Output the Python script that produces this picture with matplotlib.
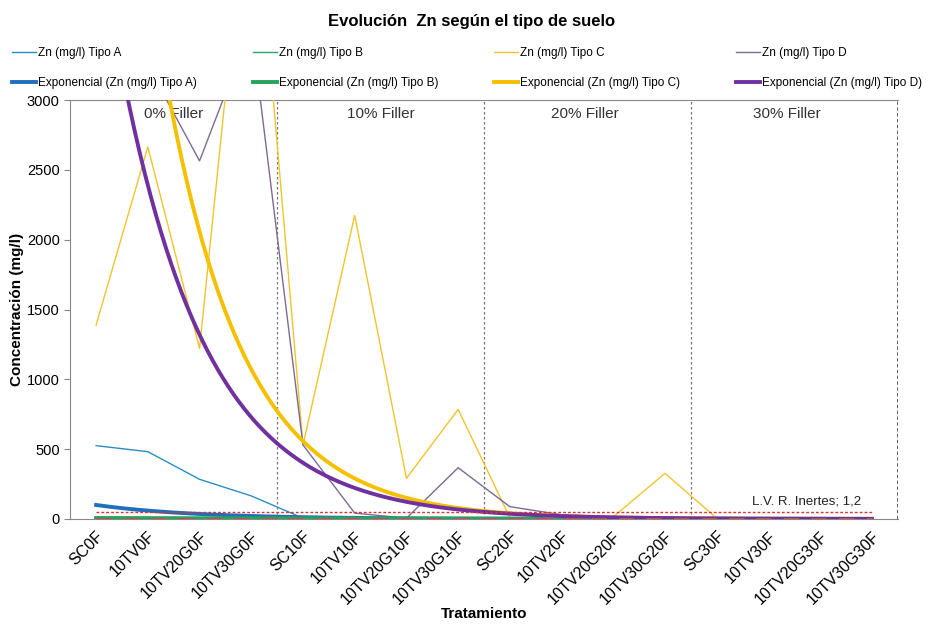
import matplotlib
matplotlib.use("Agg")
import matplotlib.pyplot as plt
import numpy as np

plt.rcParams['font.family'] = ['Liberation Sans', 'DejaVu Sans']

# categories (tratamientos)
tratamientos = ['SC0F', '10TV0F', '10TV20G0F', '10TV30G0F',
                'SC10F', '10TV10F', '10TV20G10F', '10TV30G10F',
                'SC20F', '10TV20F', '10TV20G20F', '10TV30G20F',
                'SC30F', '10TV30F', '10TV20G30F', '10TV30G30F']

# Zn (mg/l) per soil type (values > 3000 are off-scale)
tipo_a = [525, 482, 284, 165, 6, 3, 2, 2, 2, 2, 2, 2, 2, 2, 2, 2]
tipo_b = [6, 5, 4, 4, 3, 3, 2, 2, 2, 2, 2, 2, 2, 2, 2, 2]
tipo_c = [1390, 2665, 1222, 4850, 530, 2175, 291, 785, 10, 5, 15, 327, 5, 3, 3, 3]
tipo_d = [3500, 3250, 2565, 3530, 530, 42, 5, 367, 88, 30, 15, 5, 3, 2, 2, 2]

# exponential trendlines y = a*exp(b*x), x = 1..16 (Excel style)
trend_a = [168, 8, 14600, 7842]
trend_b = [-0.517, -0.15, -0.653, -0.594]

# limit lines
lim_sup = 52
lim_inertes = 1.2

series = [tipo_a, tipo_b, tipo_c, tipo_d]
nombres = ['Tipo A', 'Tipo B', 'Tipo C', 'Tipo D']
col_thin = ['#2b8cc4', '#2ca66a', '#f2c42c', '#7b6b95']
col_fit = ['#1f6fba', '#27a35a', '#f5c000', '#7030a0']

grupos = ['0% Filler', '10% Filler', '20% Filler', '30% Filler']
grupos_x = [1.5, 5.5, 9.45, 13.35]

fig = plt.figure(figsize=(9.43, 6.26), dpi=100)
ax = fig.add_axes([0.0745, 0.171, 0.8775, 0.669])

x = np.arange(len(tratamientos))
xs = np.linspace(1, len(tratamientos), 300)

handles = []
for i in range(4):
    h1, = ax.plot(x, series[i], color=col_thin[i], lw=1.0,
                  label='Zn (mg/l) ' + nombres[i], zorder=3)
    h2, = ax.plot(xs - 1, trend_a[i] * np.exp(trend_b[i] * xs), color=col_fit[i],
                  lw=2.8, label='Exponencial (Zn (mg/l) ' + nombres[i] + ')', zorder=4)
    handles += [h1, h2]

# limit lines
ax.plot([0, 15], [lim_sup, lim_sup], color='#e03030', lw=1.0, ls=(0, (2, 1.5)), zorder=5)
ax.plot([0, 15], [lim_inertes, lim_inertes], color='#c0504d', lw=2.2, ls=(0, (5, 4)), zorder=6)
ax.text(14.8, 122, 'L.V. R. Inertes; 1,2', ha='right', va='center', fontsize=9.5, color='#222222')

# group separators
for xv in [3.5, 7.5, 11.5]:
    ax.axvline(xv, color='#777777', lw=0.9, ls=(0, (2, 2)), zorder=1)
ax.axvline(15.5, color='#444444', lw=1.2, ls=(0, (2, 1.5)), zorder=1)

for g, gx in zip(grupos, grupos_x):
    ax.text(gx, 2900, g, ha='center', va='center', fontsize=11, color='#333333')

ax.set_xlim(-0.5, 15.5)
ax.set_ylim(0, 3000)
ax.set_yticks(np.arange(0, 3001, 500))
ax.set_xticks(x)
ax.set_xticklabels(tratamientos, rotation=45, ha='right', rotation_mode='anchor', fontsize=11.5)
ax.tick_params(axis='x', length=0, pad=7)
ax.tick_params(axis='y', labelsize=10.5, length=4, color='#888888')
for s in ['left', 'bottom', 'top']:
    ax.spines[s].set_color('#888888')
ax.spines['right'].set_visible(False)

ax.set_xlabel('Tratamiento', fontsize=11, fontweight='bold', labelpad=0)
ax.set_ylabel('Concentración (mg/l)', fontsize=11, fontweight='bold', labelpad=2)

fig.suptitle('Evolución  Zn según el tipo de suelo', fontsize=12, fontweight='bold', y=0.977)

fig.legend(handles=handles, loc='lower left', ncol=4, mode='expand',
           bbox_to_anchor=(0.008, 0.85, 0.975, 0.09), fontsize=8.5, frameon=False,
           handlelength=2.0, handletextpad=0.2, labelspacing=1.5, borderaxespad=0)

fig.savefig('out.png', dpi=100)
